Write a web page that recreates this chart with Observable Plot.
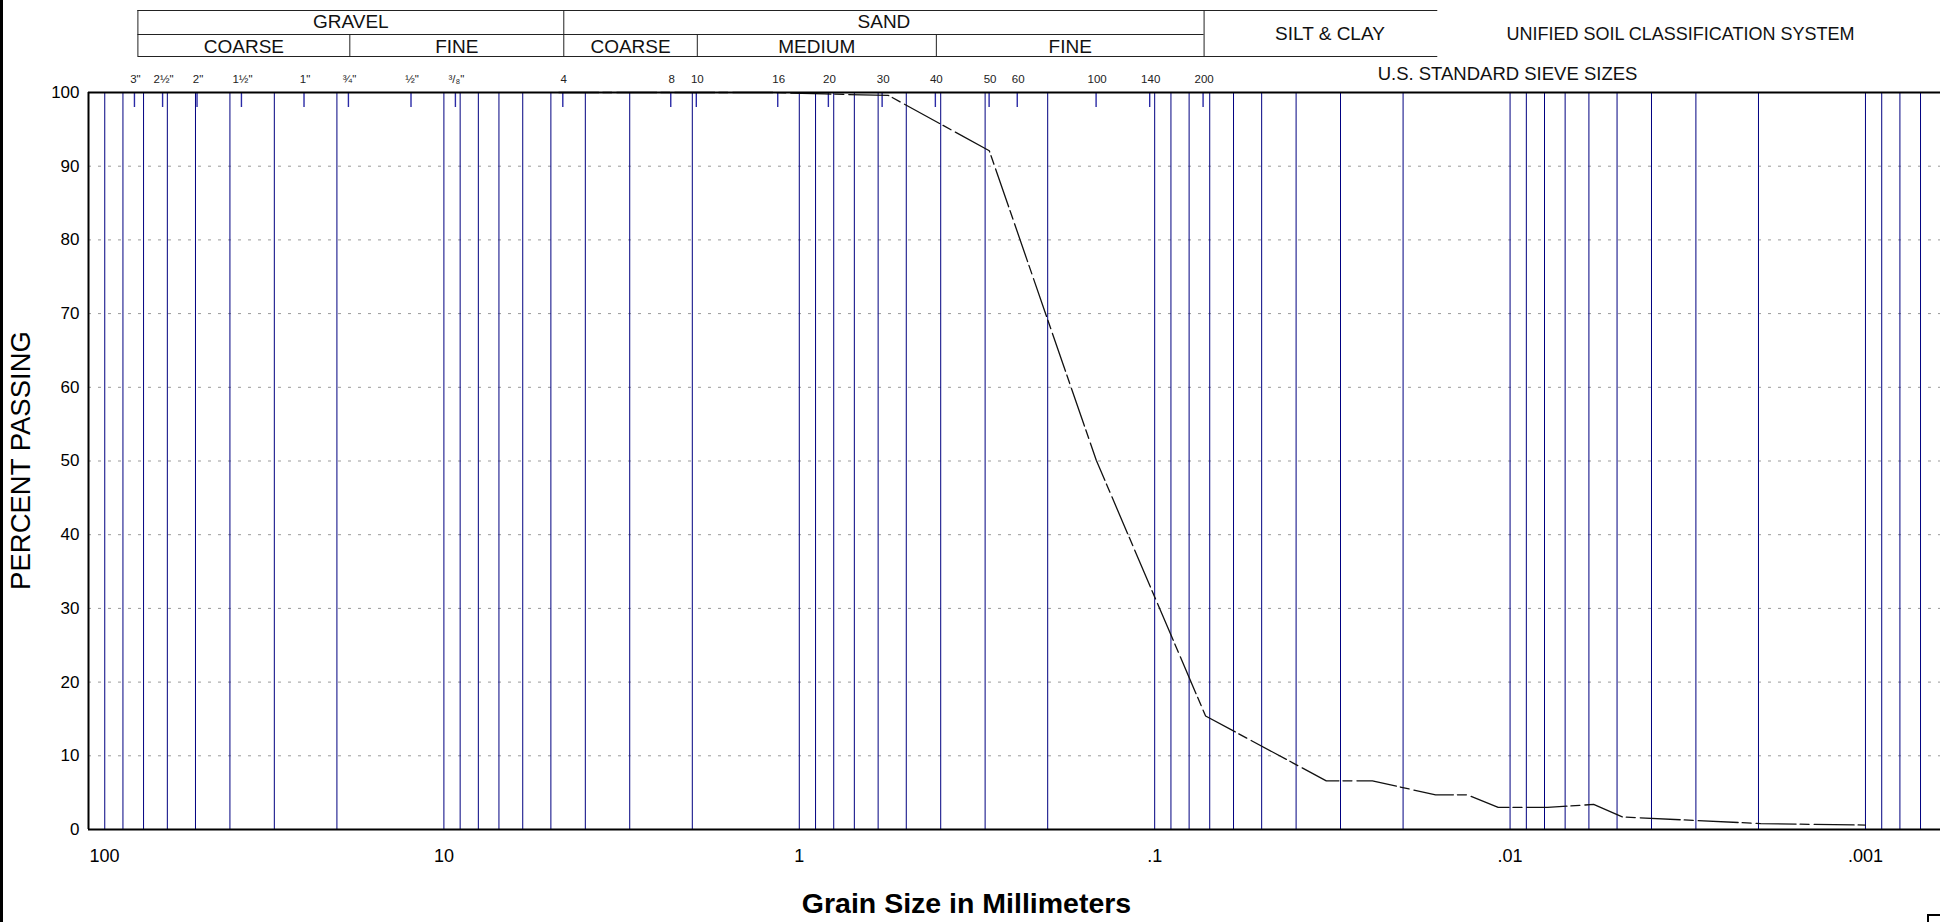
<!DOCTYPE html>
<html>
<head>
<meta charset="utf-8">
<script src="https://cdn.jsdelivr.net/npm/d3@7"></script>
<script src="https://cdn.jsdelivr.net/npm/@observablehq/plot@0.6"></script>
<style>
html, body { margin: 0; padding: 0; background: #fff; }
#chart { position: relative; width: 1940px; height: 922px; overflow: hidden; }
#chart svg { position: absolute; left: 0; top: 0; }
#leftBorder { position: absolute; left: 0; top: 0; width: 3px; height: 922px; background: #000; z-index: 2; }
#corner { position: absolute; left: 1927px; top: 914px; width: 20px; height: 20px; border-top: 2px solid #000; border-left: 2px solid #000; z-index: 2; }
g[aria-label="sieve-labels"] text { letter-spacing: 2.5px; }
g[aria-label="header-text"] text, g[aria-label="note-text"] text { letter-spacing: -0.4px; }
g[aria-label="y-title"] text { letter-spacing: -0.3px; }
g[aria-label="x-title"] text { letter-spacing: -0.6px; }
</style>
</head>
<body>
<div id="chart"><div id="leftBorder"></div><div id="corner"></div></div>
<script>
// ---------- data ----------
// gradation curve (grain size in mm, percent passing)
const grainSize = [4.75, 2.0, 1.18, 0.85, 0.561, 0.292, 0.146, 0.0719, 0.0329, 0.0244, 0.0162, 0.0132, 0.0108, 0.00785, 0.00582, 0.00483, 0.00197, 0.001];
const percentPassing = [100, 100, 100, 99.8, 99.6, 92.1, 50.1, 15.4, 6.6, 6.6, 4.7, 4.7, 3.0, 3.0, 3.4, 1.7, 0.8, 0.6];

// U.S. standard sieve sizes
const sieveLabels = ['3"', '2½"', '2"', '1½"', '1"', '¾"', '½"', '³/₈"', '4', '8', '10', '16', '20', '30', '40', '50', '60', '100', '140', '200'];
const sieveSizes = [76.2, 63.5, 50.8, 38.1, 25.4, 19.05, 12.7, 9.525, 4.75, 2.36, 2.0, 1.18, 0.85, 0.6, 0.425, 0.3, 0.25, 0.15, 0.106, 0.075];

// axis ticks
const xTicks = [100, 10, 1, 0.1, 0.01, 0.001];
const xTickLabels = ["100", "10", "1", ".1", ".01", ".001"];
const yTicks = [0, 10, 20, 30, 40, 50, 60, 70, 80, 90, 100];
const yGrid = [10, 20, 30, 40, 50, 60, 70, 80, 90];

// USCS classification header (boundaries in mm)
const majorNames = ["GRAVEL", "SAND"];
const majorFrom = [75, 4.75];
const majorTo = [4.75, 0.075];
const minorNames = ["COARSE", "FINE", "COARSE", "MEDIUM", "FINE"];
const minorFrom = [75, 19, 4.75, 2.0, 0.425];
const minorTo = [19, 4.75, 2.0, 0.425, 0.075];
const finesName = "SILT & CLAY";
const finesFrom = 0.075;
const headerEnd = 0.0165;
const systemTitle = "UNIFIED SOIL CLASSIFICATION SYSTEM";
const sieveTitle = "U.S. STANDARD SIEVE SIZES";
const xTitle = "Grain Size in Millimeters";
const yTitle = "PERCENT PASSING";

// ---------- layout ----------
const W = 1940, H = 922, mTop = 92, mBottom = 93, mLeft = 88, mRight = 0;
const yAt = px => 100 * (H - mBottom - px) / (H - mTop - mBottom); // pixel row -> percent units (for header rows)
const hdrShift = 5, tickShift = 4;

const gradation = grainSize.map((s, i) => ({size: s, pct: percentPassing[i]}));
const sieves = sieveSizes.map((s, i) => ({size: s, label: sieveLabels[i]}));
const fmt = new Map(xTicks.map((v, i) => [v, xTickLabels[i]]));

const rowTop = yAt(10), rowMid = yAt(34), rowBot = yAt(56);
const hLines = [
  {y: rowTop, x1: majorFrom[0], x2: headerEnd},
  {y: rowMid, x1: majorFrom[0], x2: finesFrom},
  {y: rowBot, x1: majorFrom[0], x2: headerEnd}
];
const vLines = [
  ...[majorFrom[0], majorFrom[1], finesFrom].map(x => ({x, y1: rowTop, y2: rowBot})),
  ...[minorFrom[1], minorFrom[3], minorFrom[4]].map(x => ({x, y1: rowMid, y2: rowBot}))
];
const headerText = [
  ...majorNames.map((t, i) => ({t, x: Math.sqrt(majorFrom[i] * majorTo[i]), y: yAt(21.7)})),
  ...minorNames.map((t, i) => ({t, x: Math.sqrt(minorFrom[i] * minorTo[i]), y: yAt(46.5)}))
];
const finesText = [{t: finesName, x: Math.sqrt(finesFrom * headerEnd), y: yAt(33.5)}];

const navy = "#000080";
const txt = (text, o) => Plot.text([text], {text: d => d, textAnchor: "middle", lineAnchor: "middle", ...o});

const plot = Plot.plot({
  width: W,
  height: H,
  marginTop: mTop,
  marginBottom: mBottom,
  marginLeft: mLeft,
  marginRight: mRight,
  style: {fontFamily: "'Liberation Sans', Arial, sans-serif", background: "#fff", color: "#000", overflow: "visible"},
  x: {type: "log", domain: [100, 0.000615], range: [mLeft, W - mRight], axis: null},
  y: {domain: [0, 100], axis: null},
  marks: [
    // horizontal dotted grid
    Plot.gridY(yGrid, {stroke: "#999", strokeOpacity: 1, strokeWidth: 1, strokeDasharray: "3,7"}),
    // log grid (blue verticals)
    Plot.gridX({stroke: navy, strokeOpacity: 1, strokeWidth: 1}),
    // sieve ticks along the top
    Plot.ruleX(sieves, {x: "size", y1: 100, y2: yAt(107), stroke: "#2a2aa6", strokeWidth: 1.4, dx: tickShift}),
    Plot.text(sieves, {x: "size", y: yAt(79), text: "label", fontSize: 11.5, fill: "#222", dx: tickShift + 1, ariaLabel: "sieve-labels"}),
    // gradation curve
    Plot.line(gradation, {x: "size", y: "pct", stroke: "#111", strokeWidth: 1.3, strokeDasharray: "40,4,9,5"}),
    // frame lines
    Plot.ruleY([0], {stroke: "#000", strokeWidth: 2}),
    Plot.ruleY([100], {stroke: "#000", strokeWidth: 2}),
    Plot.ruleX([100], {stroke: "#000", strokeWidth: 2}),
    // axes
    Plot.axisY(yTicks, {tickSize: 0, tickPadding: 9, fontSize: 17, label: null}),
    Plot.axisX(xTicks.slice(1), {tickSize: 0, tickPadding: 20, fontSize: 18, tickFormat: d => fmt.get(d), label: null}),
    Plot.axisX(xTicks.slice(0, 1), {tickSize: 0, tickPadding: 20, fontSize: 18, tickFormat: d => fmt.get(d), label: null, dx: 16}),
    // header table
    Plot.ruleY(hLines, {y: "y", x1: "x1", x2: "x2", stroke: "#222", strokeWidth: 1, dx: hdrShift}),
    Plot.ruleX(vLines, {x: "x", y1: "y1", y2: "y2", stroke: "#222", strokeWidth: 1, dx: hdrShift}),
    Plot.text(headerText, {x: "x", y: "y", text: "t", fontSize: 19, fill: "#111", dx: hdrShift, ariaLabel: "header-text"}),
    Plot.text(finesText, {x: "x", y: "y", text: "t", fontSize: 19, fill: "#111", dx: 14, ariaLabel: "header-text"}),
    txt(systemTitle, {frameAnchor: "top-left", dx: 1680 - mLeft, dy: 33.5 - mTop, fontSize: 18, fill: "#111", ariaLabel: "note-text"}),
    txt(sieveTitle, {frameAnchor: "top-left", dx: 1507 - mLeft, dy: 74 - mTop, fontSize: 18.5, fill: "#111", ariaLabel: "note-text"}),
    // titles
    txt(xTitle, {frameAnchor: "top-left", dx: 966 - mLeft, dy: 903 - mTop, fontSize: 28.5, fontWeight: "bold", fill: "#000", ariaLabel: "x-title"}),
    txt(yTitle, {frameAnchor: "top-left", dx: 21 - mLeft, dy: 460 - mTop, rotate: -90, fontSize: 27.5, fill: "#000", ariaLabel: "y-title"})
  ]
});

document.getElementById("chart").prepend(plot);
</script>
</body>
</html>
